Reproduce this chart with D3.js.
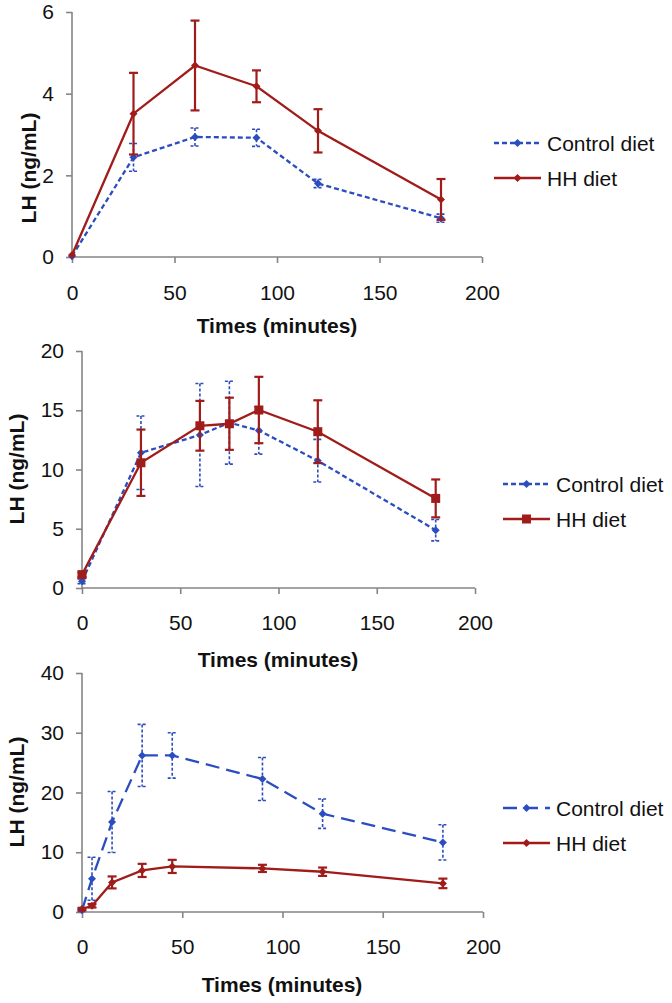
<!DOCTYPE html>
<html>
<head>
<meta charset="utf-8">
<script src="https://cdn.jsdelivr.net/npm/d3@7"></script>
<style>
  html, body { margin: 0; padding: 0; background: #fff; }
  svg { display: block; font-family: "Liberation Sans", Arial, sans-serif; }
</style>
</head>
<body>
<svg id="chart" width="672" height="1003"></svg>
<script>
// ---- Data ----
const seriesNames = ["Control diet", "HH diet"];

const p1Times = [0, 30, 60, 90, 120, 180];
const p1Control = [0.02, 2.44, 2.94, 2.92, 1.80, 0.95];
const p1ControlErr = [0, 0.34, 0.22, 0.21, 0.10, 0.10];
const p1HH = [0.05, 3.51, 4.69, 4.18, 3.09, 1.41];
const p1HHErr = [0, 1.0, 1.1, 0.39, 0.53, 0.5];
const p1YTicks = [0, 2, 4, 6];

const p2Times = [0, 30, 60, 75, 90, 120, 180];
const p2Control = [0.57, 11.41, 12.91, 13.95, 13.3, 10.74, 4.88];
const p2ControlErr = [0.2, 3.1, 4.35, 3.5, 2.0, 1.8, 0.9];
const p2HH = [1.13, 10.57, 13.69, 13.86, 15.02, 13.19, 7.56];
const p2HHErr = [0.2, 2.8, 2.1, 2.2, 2.8, 2.65, 1.6];
const p2YTicks = [0, 5, 10, 15, 20];

const p3Times = [0, 5, 15, 30, 45, 90, 120, 180];
const p3Control = [0.3, 5.57, 15.06, 26.2, 26.2, 22.26, 16.45, 11.65];
const p3ControlErr = [0.2, 3.6, 5.1, 5.2, 3.8, 3.6, 2.45, 2.95];
const p3HH = [0.5, 1.05, 4.95, 6.96, 7.63, 7.3, 6.74, 4.79];
const p3HHErr = [0.2, 0.3, 1.0, 1.1, 1.1, 0.6, 0.7, 0.8];
const p3YTicks = [0, 10, 20, 30, 40];

const xTicks = [0, 50, 100, 150, 200];
const xTitle = "Times (minutes)";
const yTitle = "LH (ng/mL)";

// ---- Styles ----
const BLUE = "#2c4dbf";
const RED = "#a01c1a";
const AXIS = "#858585";

const svg = d3.select("#chart");

const panels = [
  { times: p1Times, ctrl: p1Control, ctrlErr: p1ControlErr, hh: p1HH, hhErr: p1HHErr, yTicks: p1YTicks,
    x0: 72, x1: 482, yTop: 12, yBot: 257, yMax: 6, ctrlDash: "5,3", hhMarker: "diamond",
    yTitleX: 28, yTitleY: 168, xLabelY: 300, xTitleX: 277, xTitleY: 333,
    legX: 494, legLineW: 47, legY: 143, legGap: 35 },
  { times: p2Times, ctrl: p2Control, ctrlErr: p2ControlErr, hh: p2HH, hhErr: p2HHErr, yTicks: p2YTicks,
    x0: 82, x1: 475, yTop: 351, yBot: 588, yMax: 20, ctrlDash: "5,3", hhMarker: "square",
    yTitleX: 16, yTitleY: 469, xLabelY: 630, xTitleX: 278, xTitleY: 667,
    legX: 503, legLineW: 47, legY: 484, legGap: 35 },
  { times: p3Times, ctrl: p3Control, ctrlErr: p3ControlErr, hh: p3HH, hhErr: p3HHErr, yTicks: p3YTicks,
    x0: 82, x1: 483, yTop: 673, yBot: 912, yMax: 40, ctrlDash: "14,7", hhMarker: "diamond",
    yTitleX: 16, yTitleY: 792, xLabelY: 954, xTitleX: 282, xTitleY: 992,
    legX: 503, legLineW: 47, legY: 808, legGap: 35 }
];

function marker(g, type, x, y, color, size) {
  if (type === "square") {
    g.append("rect").attr("x", x - size / 2).attr("y", y - size / 2)
      .attr("width", size).attr("height", size).attr("fill", color);
  } else {
    const s = size / 2;
    g.append("path").attr("d", `M${x},${y - s}L${x + s},${y}L${x},${y + s}L${x - s},${y}Z`)
      .attr("fill", color);
  }
}

panels.forEach(p => {
  const g = svg.append("g");
  const x = d3.scaleLinear().domain([0, 200]).range([p.x0, p.x1]);
  const y = d3.scaleLinear().domain([0, p.yMax]).range([p.yBot, p.yTop]);

  // Y axis
  const yAxis = g.append("g").attr("transform", `translate(${p.x0},0)`)
    .call(d3.axisLeft(y).tickValues(p.yTicks).tickSize(6).tickPadding(12).tickFormat(d3.format("d")));
  // X axis
  const xAxis = g.append("g").attr("transform", `translate(0,${p.yBot})`)
    .call(d3.axisBottom(x).tickValues(xTicks).tickSize(6).tickPadding(0).tickFormat(d3.format("d")));
  [yAxis, xAxis].forEach(a => {
    a.select(".domain").attr("stroke", AXIS).attr("stroke-width", 1.6);
    a.selectAll(".tick line").attr("stroke", AXIS).attr("stroke-width", 1.6);
    a.selectAll(".tick text").attr("fill", "#111").attr("font-size", 21)
      .attr("font-family", "Liberation Sans, Arial, sans-serif");
  });
  yAxis.select(".domain").attr("d", `M0,${p.yBot}V${p.yTop}`);
  yAxis.selectAll(".tick line").attr("x2", -6);
  xAxis.select(".domain").attr("d", `M${p.x0},0H${p.x1}`);
  xAxis.selectAll(".tick text").attr("y", null).attr("dy", null)
    .attr("transform", `translate(0,${p.xLabelY - p.yBot})`);

  // Titles
  g.append("text").attr("x", p.xTitleX).attr("y", p.xTitleY).attr("text-anchor", "middle")
    .attr("font-size", 21).attr("font-weight", "bold").attr("fill", "#111").text(xTitle);
  g.append("text").attr("transform", `translate(${p.yTitleX},${p.yTitleY}) rotate(-90)`)
    .attr("text-anchor", "middle").attr("dy", "0.36em")
    .attr("font-size", 21).attr("font-weight", "bold").attr("fill", "#111").text(yTitle);

  const line = d3.line().x(d => x(d[0])).y(d => y(d[1]));
  const series = [
    { vals: p.ctrl, errs: p.ctrlErr, color: BLUE, dash: p.ctrlDash, errDash: "3,2", mk: "diamond", mkSize: 8 },
    { vals: p.hh, errs: p.hhErr, color: RED, dash: null, errDash: null, mk: p.hhMarker, mkSize: p.hhMarker === "square" ? 9 : 8 }
  ];

  series.forEach(s => {
    const pts = p.times.map((t, i) => [t, s.vals[i], s.errs[i]]);
    // error bars
    pts.forEach(d => {
      if (d[2] <= 0) return;
      const cx = x(d[0]), yt = y(d[1] + d[2]), yb = y(Math.max(0, d[1] - d[2]));
      const eb = g.append("g").attr("stroke", s.color).attr("stroke-width", s.dash ? 1.6 : 2.2)
        .attr("stroke-dasharray", s.errDash);
      eb.append("line").attr("x1", cx).attr("x2", cx).attr("y1", yt).attr("y2", yb);
      eb.append("line").attr("x1", cx - 4.5).attr("x2", cx + 4.5).attr("y1", yt).attr("y2", yt).attr("stroke-dasharray", null);
      eb.append("line").attr("x1", cx - 4.5).attr("x2", cx + 4.5).attr("y1", yb).attr("y2", yb).attr("stroke-dasharray", null);
    });
    g.append("path").datum(pts).attr("d", line).attr("fill", "none")
      .attr("stroke", s.color).attr("stroke-width", 2.3).attr("stroke-dasharray", s.dash);
    pts.forEach(d => marker(g, s.mk, x(d[0]), y(d[1]), s.color, s.mkSize));
  });

  // Legend
  series.forEach((s, i) => {
    const ly = p.legY + i * p.legGap;
    const lg = g.append("g");
    lg.append("line").attr("x1", p.legX).attr("x2", p.legX + p.legLineW).attr("y1", ly).attr("y2", ly)
      .attr("stroke", s.color).attr("stroke-width", 2.3).attr("stroke-dasharray", s.dash);
    marker(lg, s.mk, p.legX + p.legLineW / 2, ly, s.color, s.mkSize);
    lg.append("text").attr("x", p.legX + p.legLineW + 6).attr("y", ly).attr("dy", "0.36em")
      .attr("font-size", 21).attr("fill", "#111").text(seriesNames[i]);
  });
});
</script>
</body>
</html>
